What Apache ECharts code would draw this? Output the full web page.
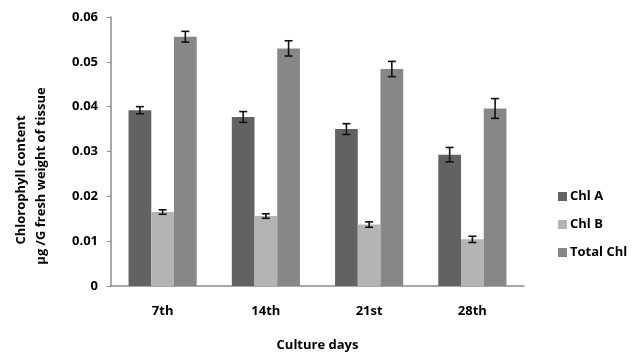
<!DOCTYPE html>
<html>
<head>
<meta charset="utf-8">
<script src="https://cdn.jsdelivr.net/npm/echarts@6/dist/echarts.min.js"></script>
<style>
  html, body { margin: 0; padding: 0; background: #ffffff; }
  #chart { width: 637px; height: 357px; }
</style>
</head>
<body>
<div id="chart"></div>
<script>
// Culture day categories
const categories = ['7th', '14th', '21st', '28th'];

// Chlorophyll content (µg/G fresh weight) per culture day
const chlA = [0.0392, 0.0377, 0.0350, 0.0293];
const chlB = [0.0165, 0.0156, 0.0137, 0.0104];
const totalChl = [0.0556, 0.0530, 0.0484, 0.0396];

// Standard error for each value
const chlAErr = [0.0008, 0.0012, 0.0012, 0.0016];
const chlBErr = [0.0005, 0.0005, 0.0006, 0.0007];
const totalChlErr = [0.0012, 0.0017, 0.0017, 0.0022];

// Y axis ticks
const yTicks = [0, 0.01, 0.02, 0.03, 0.04, 0.05, 0.06];

const seriesNames = ['Chl A', 'Chl B', 'Total Chl'];
const seriesValues = [chlA, chlB, totalChl];
const seriesErrors = [chlAErr, chlBErr, totalChlErr];
const colors = ['#626262', '#b4b4b4', '#878787'];

const categoryGap = 0.34;
const fontFam = '"Open Sans", "Noto Sans", sans-serif';

const chart = echarts.init(document.getElementById('chart'), null, { renderer: 'canvas' });

function errorSeries(idx) {
  const data = categories.map((c, i) => [i, seriesValues[idx][i] - seriesErrors[idx][i], seriesValues[idx][i] + seriesErrors[idx][i]]);
  return {
    type: 'custom',
    name: seriesNames[idx] + ' error',
    z: 10,
    silent: true,
    renderItem: function (params, api) {
      const ci = api.value(0);
      const lo = api.coord([ci, api.value(1)]);
      const hi = api.coord([ci, api.value(2)]);
      const bandW = api.size([1, 0])[0];
      const barW = bandW * (1 - categoryGap) / 3;
      const x = lo[0] + (idx - 1) * barW;
      const cap = 4;
      const s = { stroke: '#111111', lineWidth: 1.6 };
      return {
        type: 'group',
        children: [
          { type: 'line', shape: { x1: x, y1: lo[1], x2: x, y2: hi[1] }, style: s },
          { type: 'line', shape: { x1: x - cap, y1: lo[1], x2: x + cap, y2: lo[1] }, style: s },
          { type: 'line', shape: { x1: x - cap, y1: hi[1], x2: x + cap, y2: hi[1] }, style: s }
        ]
      };
    },
    encode: { x: 0, y: [1, 2] },
    data: data
  };
}

const barSeries = seriesNames.map((name, idx) => ({
  type: 'bar',
  name: name,
  data: seriesValues[idx],
  itemStyle: { color: colors[idx] },
  barGap: '0%',
  barCategoryGap: (categoryGap * 100) + '%'
}));

const boldText = { fontFamily: fontFam, fontWeight: 'bold', fontSize: 13, color: '#000000' };

const option = {
  animation: false,
  backgroundColor: '#ffffff',
  color: colors,
  grid: { left: 111, right: 113, top: 17, bottom: 70, containLabel: false },
  legend: {
    data: seriesNames,
    orient: 'vertical',
    left: 553,
    top: 185,
    itemWidth: 9,
    itemHeight: 9,
    itemGap: 15,
    icon: 'rect',
    textStyle: Object.assign({ padding: [0, 0, 0, -2] }, boldText)
  },
  xAxis: {
    type: 'category',
    data: categories,
    name: 'Culture days',
    nameLocation: 'middle',
    nameGap: 53,
    nameTextStyle: boldText,
    axisLine: { lineStyle: { color: '#8c8c8c', width: 1.5 } },
    axisTick: { show: false },
    axisLabel: Object.assign({ margin: 19 }, boldText)
  },
  yAxis: {
    type: 'value',
    min: yTicks[0],
    max: yTicks[yTicks.length - 1],
    interval: yTicks[1] - yTicks[0],
    splitLine: { show: false },
    axisLine: { show: true, lineStyle: { color: '#8c8c8c', width: 1.5 } },
    axisTick: { show: true, length: 4, inside: false, lineStyle: { color: '#8c8c8c', width: 1 } },
    axisLabel: Object.assign({
      margin: 13,
      formatter: function (v) { return String(parseFloat(v.toFixed(2))); }
    }, boldText)
  },
  graphic: [
    {
      type: 'text',
      x: 21, y: 180,
      rotation: Math.PI / 2,
      style: { text: 'Chlorophyll content', fontFamily: fontFam, fontWeight: 'bold', fontSize: 13, fill: '#000000', align: 'center', verticalAlign: 'middle' }
    },
    {
      type: 'text',
      x: 41, y: 176,
      rotation: Math.PI / 2,
      style: { text: 'µg /G fresh weight of tissue', fontFamily: fontFam, fontWeight: 'bold', fontSize: 13, fill: '#000000', align: 'center', verticalAlign: 'middle' }
    }
  ],
  series: barSeries.concat([errorSeries(0), errorSeries(1), errorSeries(2)])
};

chart.setOption(option);
</script>
</body>
</html>
